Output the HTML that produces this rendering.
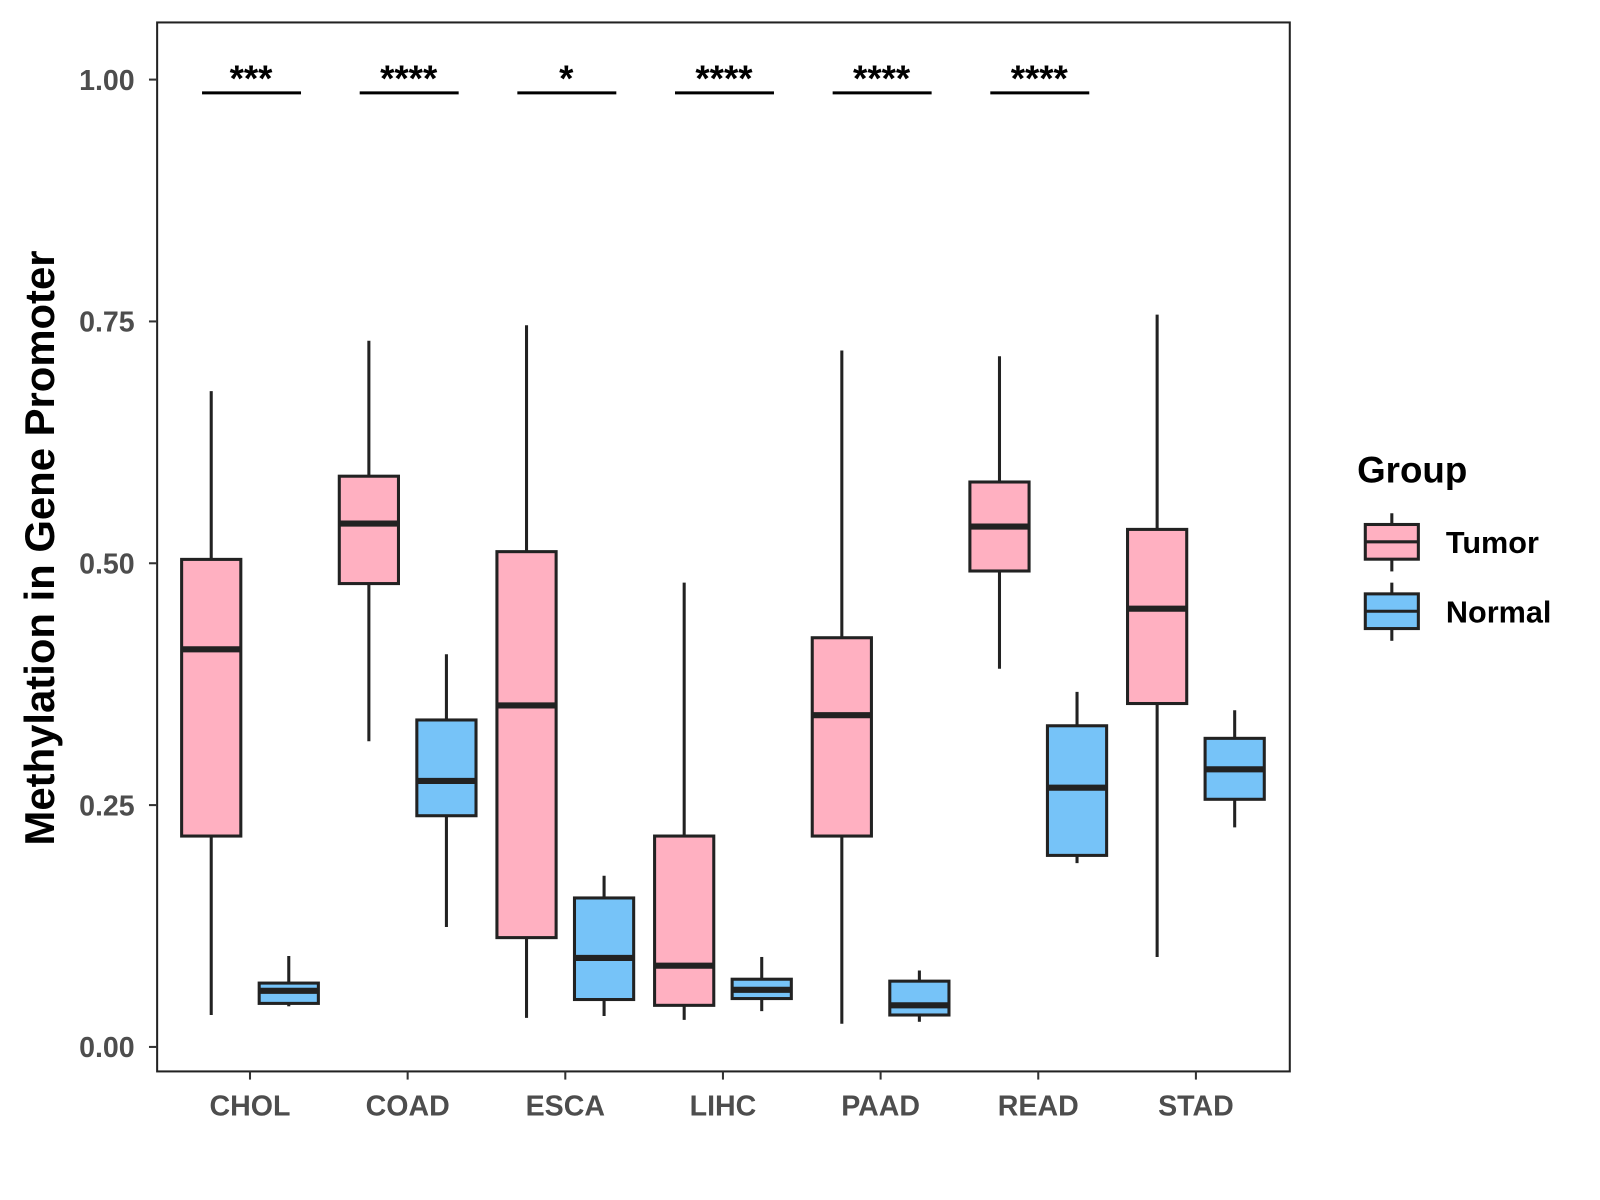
<!DOCTYPE html>
<html><head><meta charset="utf-8"><style>
html,body{margin:0;padding:0;background:#fff;}
svg{display:block;font-family:"Liberation Sans",Arial,sans-serif;}
</style></head><body>
<svg id="chart" width="1600" height="1200" viewBox="0 0 1600 1200">
<g transform="scale(1.0204)">
<rect x="154" y="22" width="1110" height="1028" fill="#fff" stroke="#222" stroke-width="2"/>
<g id="marks"></g>
<g id="axes"></g>
<text transform="translate(53,537) rotate(-90)" text-anchor="middle" font-size="41" font-weight="bold" fill="#000">Methylation in Gene Promoter</text>
<g>
<text x="1330" y="473" font-size="36" font-weight="bold" fill="#000">Group</text>
<g>
<line x1="1364" y1="503" x2="1364" y2="560" stroke="#222" stroke-width="3"/>
<rect x="1338" y="514" width="52" height="34" fill="#FFB0C1" stroke="#222" stroke-width="3"/>
<line x1="1338" y1="531" x2="1390" y2="531" stroke="#222" stroke-width="3"/>
<text x="1417" y="542" font-size="30" font-weight="bold" fill="#000">Tumor</text>
</g>
<g>
<line x1="1364" y1="571" x2="1364" y2="628" stroke="#222" stroke-width="3"/>
<rect x="1338" y="582" width="52" height="34" fill="#76C3F8" stroke="#222" stroke-width="3"/>
<line x1="1338" y1="599" x2="1390" y2="599" stroke="#222" stroke-width="3"/>
<text x="1417" y="610" font-size="30" font-weight="bold" fill="#000">Normal</text>
</g>
</g>
</g>
</svg>
<script>
const categories = ["CHOL","COAD","ESCA","LIHC","PAAD","READ","STAD"];
// [low, q1, median, q3, high]
const tumorStats = [
 [0.033,0.218,0.411,0.504,0.678],
 [0.316,0.479,0.541,0.590,0.730],
 [0.030,0.113,0.353,0.512,0.746],
 [0.028,0.043,0.084,0.218,0.480],
 [0.024,0.218,0.343,0.423,0.720],
 [0.391,0.492,0.538,0.584,0.714],
 [0.093,0.355,0.453,0.535,0.757]
];
const normalStats = [
 [0.042,0.045,0.058,0.066,0.094],
 [0.124,0.239,0.275,0.338,0.406],
 [0.032,0.049,0.092,0.154,0.177],
 [0.037,0.050,0.059,0.070,0.093],
 [0.026,0.033,0.043,0.068,0.079],
 [0.190,0.198,0.268,0.332,0.367],
 [0.227,0.256,0.287,0.319,0.348]
];
const sigLabels = ["***","****","*","****","****","****",""];
const yTicks = [0,0.25,0.5,0.75,1.0];
const yTickLabels = ["0.00","0.25","0.50","0.75","1.00"];

const NS="http://www.w3.org/2000/svg";
function y(v){return 1026 - v*948;}
function x(i){return 245 + i*154.5;}
function mk(tag,attrs,parent){const e=document.createElementNS(NS,tag);for(const k in attrs)e.setAttribute(k,attrs[k]);parent.appendChild(e);return e;}
const marks=document.getElementById('marks'), axes=document.getElementById('axes');
function drawBox(cx,s,fill,name){
  const g=mk('g',{},marks);
  
  
  const w=58;
  mk('line',{x1:cx,x2:cx,y1:y(s[4]),y2:y(s[0]),stroke:'#222','stroke-width':3},g);
  mk('rect',{x:cx-w/2,y:y(s[3]),width:w,height:y(s[1])-y(s[3]),fill:fill,stroke:'#222','stroke-width':3},g);
  mk('line',{x1:cx-w/2,x2:cx+w/2,y1:y(s[2]),y2:y(s[2]),stroke:'#222','stroke-width':6},g);
}
categories.forEach((c,i)=>{
  drawBox(x(i)-38,tumorStats[i],'#FFB0C1','box-tumor-'+c.toLowerCase());
  drawBox(x(i)+38,normalStats[i],'#76C3F8','box-normal-'+c.toLowerCase());
  if(sigLabels[i]){
    const g=mk('g',{},marks);
    
    
    mk('line',{x1:x(i)-47,x2:x(i)+50,y1:91,y2:91,stroke:'#000','stroke-width':3},g);
    const t=mk('text',{x:x(i)+1,y:89,'text-anchor':'middle','font-size':36,'font-weight':'bold',fill:'#000'},g);
    t.textContent=sigLabels[i];
  }
  mk('line',{x1:x(i),x2:x(i),y1:1050,y2:1058,stroke:'#333','stroke-width':2},axes);
  const t=mk('text',{x:x(i),y:1093,'text-anchor':'middle','font-size':28,'font-weight':'bold',fill:'#4d4d4d'},axes);
  
  
  t.textContent=c;
});
yTicks.forEach((v,i)=>{
  mk('line',{x1:146,x2:154,y1:y(v),y2:y(v),stroke:'#333','stroke-width':2},axes);
  const t=mk('text',{x:132,y:y(v)+10,'text-anchor':'end','font-size':28,'font-weight':'bold',fill:'#4d4d4d'},axes);
  
  
  t.textContent=yTickLabels[i];
});
</script>
</body></html>
